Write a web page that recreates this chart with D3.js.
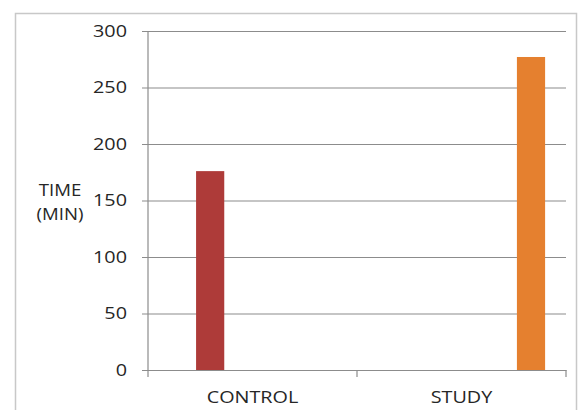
<!DOCTYPE html>
<html>
<head>
<meta charset="utf-8">
<script src="https://cdn.jsdelivr.net/npm/d3@7"></script>
<style>
  html, body { margin: 0; padding: 0; background: #fff; }
  svg { display: block; }
  text { font-family: "Open Sans", "Liberation Sans", sans-serif; fill: #262626; }
</style>
</head>
<body>
<svg id="chart" width="581" height="410"></svg>
<script>
// Chart data
const categories = ["CONTROL", "STUDY"];
const seriesNames = ["CONTROL", "STUDY"];
const controlValues = [176, null];
const studyValues = [null, 277];
const yTicks = [0, 50, 100, 150, 200, 250, 300];
const yTitle = ["TIME", "(MIN)"];
const seriesColors = ["#AE3B39", "#E5802F"];

const seriesValues = [controlValues, studyValues];

const svg = d3.select("#chart");
const W = 581, H = 410;
const FONT = "16.5px";
const STRETCH = 1.2; // wide label lettering

// Outer frame of the chart area
svg.append("path")
  .attr("d", `M15.5,${H} V13.5 H576.5 V${H}`)
  .attr("fill", "none")
  .attr("stroke", "#c8c8c8")
  .attr("stroke-width", 1.5);

const plot = { left: 148, right: 566, top: 31, bottom: 370 };

const x = d3.scaleBand()
  .domain(categories)
  .range([plot.left, plot.right])
  .paddingInner(0)
  .paddingOuter(0);

// Clustered slots inside each category band
const bw = x.bandwidth();
const xs = d3.scaleBand()
  .domain(seriesNames)
  .range([bw * 0.23, bw * 0.9])
  .paddingInner(0.748)
  .paddingOuter(0);

const y = d3.scaleLinear()
  .domain([0, 300])
  .range([plot.bottom, plot.top]);

// Horizontal gridlines with left tick marks
const yAxis = d3.axisLeft(y)
  .tickValues(yTicks)
  .tickSize(-(plot.right - plot.left))
  .tickPadding(21);

const gy = svg.append("g")
  .attr("transform", `translate(${plot.left},0)`)
  .call(yAxis);
gy.select(".domain").remove();
gy.selectAll(".tick line")
  .attr("x1", -6)
  .attr("stroke", "#8c8c8c")
  .attr("stroke-width", 1.2);
gy.selectAll(".tick text")
  .style("font-size", FONT)
  .attr("fill", "#262626")
  .attr("x", -21 / STRETCH)
  .attr("transform", `scale(${STRETCH},1)`);

// Vertical axis line
svg.append("line")
  .attr("x1", plot.left).attr("x2", plot.left)
  .attr("y1", plot.top).attr("y2", plot.bottom)
  .attr("stroke", "#8c8c8c")
  .attr("stroke-width", 1.2);

// Bars
seriesNames.forEach((s, si) => {
  svg.append("g")
    .selectAll("rect")
    .data(categories.map((c, ci) => ({ c, v: seriesValues[si][ci] })).filter(d => d.v != null))
    .join("rect")
    .attr("x", d => x(d.c) + xs(s))
    .attr("width", xs.bandwidth())
    .attr("y", d => y(d.v))
    .attr("height", d => y(0) - y(d.v))
    .attr("fill", seriesColors[si]);
});

// Category axis
const xAxis = d3.axisBottom(x).tickSize(0);
const gx = svg.append("g")
  .attr("transform", `translate(0,${plot.bottom})`)
  .call(xAxis);
gx.select(".domain")
  .attr("stroke", "#8c8c8c")
  .attr("stroke-width", 1.2);
gx.selectAll(".tick text")
  .style("font-size", FONT)
  .attr("fill", "#262626")
  .attr("y", 33)
  .attr("dy", 0)
  .attr("transform", `scale(${STRETCH},1)`);

// Category boundary tick marks
const bounds = [plot.left, plot.left + bw, plot.right];
svg.append("g")
  .selectAll("line")
  .data(bounds)
  .join("line")
  .attr("x1", d => d).attr("x2", d => d)
  .attr("y1", plot.bottom).attr("y2", plot.bottom + 7)
  .attr("stroke", "#8c8c8c")
  .attr("stroke-width", 1.2);

// Axis title
svg.append("g")
  .attr("transform", `translate(60,196) scale(${STRETCH},1)`)
  .append("text")
  .attr("text-anchor", "middle")
  .style("font-size", "15.5px")
  .selectAll("tspan")
  .data(yTitle)
  .join("tspan")
  .attr("x", 0)
  .attr("dy", (d, i) => i === 0 ? 0 : 24)
  .text(d => d);
</script>
</body>
</html>
